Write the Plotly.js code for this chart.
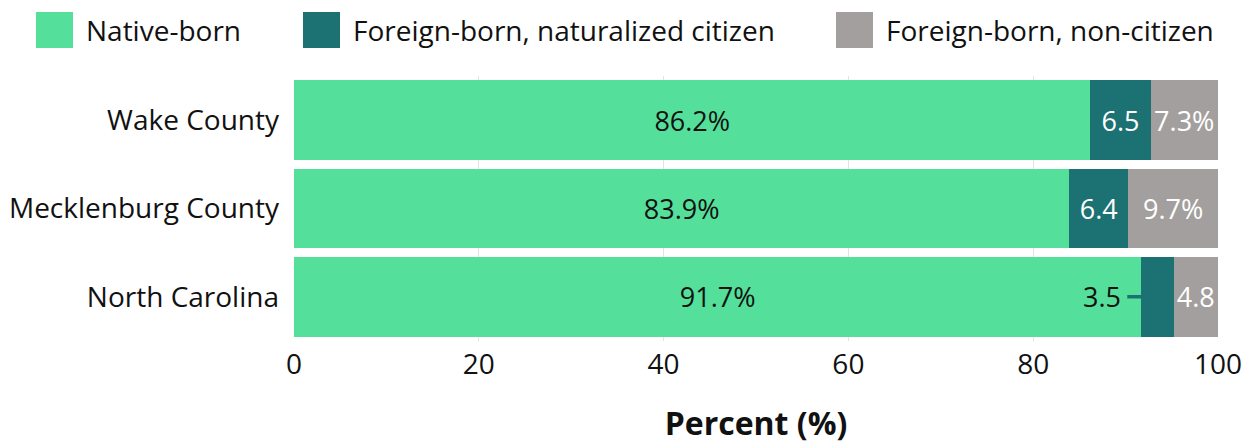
<!DOCTYPE html>
<html>
<head>
<meta charset="utf-8">
<script src="https://cdn.plot.ly/plotly-3.0.1.min.js"></script>
<style>html,body{margin:0;padding:0;background:#fff;}#chart{width:1251px;height:444px;}</style>
</head>
<body>
<div id="chart"></div>
<script>
// ---- data ----
const categories = ["Wake County", "Mecklenburg County", "North Carolina"];
const seriesNames = ["Native-born", "Foreign-born, naturalized citizen", "Foreign-born, non-citizen"];
const nativeBorn = [86.2, 83.9, 91.7];
const naturalized = [6.5, 6.4, 3.5];
const nonCitizen = [7.3, 9.7, 4.8];
const nativeLabels = ["86.2%", "83.9%", "91.7%"];
const naturalizedLabels = ["6.5", "6.4", ""];
const nonCitizenLabels = ["7.3%", "9.7%", "4.8"];
const calloutLabel = "3.5";          // North Carolina naturalized value, shown outside the bar
const xTickVals = [0, 20, 40, 60, 80, 100];

// ---- style ----
const colors = ["#54E09A", "#1C7172", "#A39F9E"];
const FONT = "'Open Sans', 'Noto Sans', sans-serif";
const W = 1251, H = 444;
const M = {l: 294, r: 33, t: 76, b: 103};
const pw = W - M.l - M.r, ph = H - M.t - M.b;
const px = v => (v - M.l) / pw;        // pixel -> paper x
const py = v => (H - M.b - v) / ph;    // pixel -> paper y

const common = {
  type: "bar", orientation: "h", y: categories,
  textposition: "inside", insidetextanchor: "middle",
  constraintext: "none", cliponaxis: false,
  hoverinfo: "skip", showlegend: false
};

const traces = [
  Object.assign({}, common, {name: seriesNames[0], x: nativeBorn, text: nativeLabels,
    marker: {color: colors[0], line: {width: 0}}, textfont: {family: FONT, size: 27, color: "#111"}}),
  Object.assign({}, common, {name: seriesNames[1], x: naturalized, text: naturalizedLabels,
    marker: {color: colors[1], line: {width: 0}}, textfont: {family: FONT, size: 27, color: "#fff"}}),
  Object.assign({}, common, {name: seriesNames[2], x: nonCitizen, text: nonCitizenLabels,
    marker: {color: colors[2], line: {width: 0}}, textfont: {family: FONT, size: 27, color: "#fff"}})
];

// custom legend (large swatches)
const legendX = [36, 303, 836];
const shapes = [], annotations = [];
seriesNames.forEach((n, i) => {
  shapes.push({type: "rect", xref: "paper", yref: "paper",
    x0: px(legendX[i]), x1: px(legendX[i] + 37), y0: py(48), y1: py(12),
    fillcolor: colors[i], line: {width: 0}});
  annotations.push({xref: "paper", yref: "paper", x: px(legendX[i] + 48), y: py(30),
    xanchor: "left", yanchor: "middle", showarrow: false, text: n,
    font: {family: FONT, size: 28, color: "#111"}});
});

// callout for the narrow North Carolina naturalized segment
annotations.push({
  x: nativeBorn[2], y: categories[2], xref: "x", yref: "y",
  text: calloutLabel, showarrow: true, arrowhead: 0, arrowwidth: 3.5,
  arrowcolor: colors[1], ax: -14, ay: 0, xanchor: "right", yanchor: "middle",
  standoff: 0, startstandoff: 0, borderpad: 5,
  font: {family: FONT, size: 27, color: "#111"}
});

const layout = {
  width: W, height: H,
  margin: M,
  paper_bgcolor: "#fff", plot_bgcolor: "#fff",
  barmode: "stack", bargap: 0.1,
  font: {family: FONT, color: "#111"},
  xaxis: {
    range: [0, 100.001], tickvals: xTickVals, ticktext: xTickVals.map(String),
    showgrid: true, gridcolor: "#e3e3e3", gridwidth: 1, zeroline: false,
    showline: false, ticks: "", ticklabelstandoff: 4,
    tickfont: {family: FONT, size: 28, color: "#111"},
    title: {text: "<b>Percent (%)</b>", font: {family: FONT, size: 32, color: "#111"}, standoff: 31},
    fixedrange: true
  },
  yaxis: {
    autorange: "reversed", showgrid: false, zeroline: false, showline: false,
    ticks: "", ticklabelstandoff: 14,
    tickfont: {family: FONT, size: 28, color: "#111"}, fixedrange: true
  },
  shapes: shapes,
  annotations: annotations
};

Plotly.newPlot("chart", traces, layout, {displayModeBar: false, staticPlot: true});
</script>
</body>
</html>
